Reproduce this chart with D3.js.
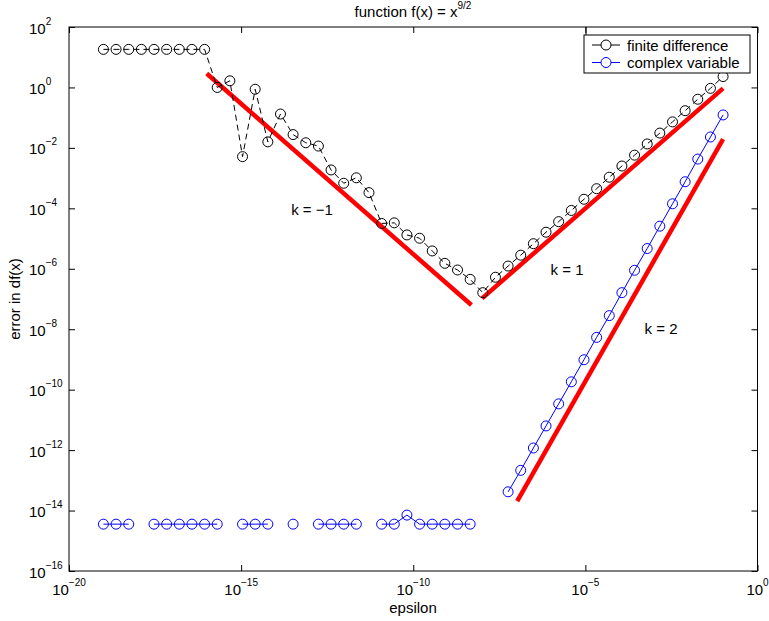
<!DOCTYPE html>
<html>
<head>
  <title>function f(x) = x^(9/2)</title>
  <script src="https://cdn.jsdelivr.net/npm/d3@7/dist/d3.min.js"></script>
  <style>
    body { margin: 0; background: #fff; }
    text { font-family: "Liberation Sans", Arial, Helvetica, sans-serif; fill: #000; }
  </style>
</head>
<body>
<svg width="769" height="621"></svg>

<script>
  // log10(epsilon) of the 50 step sizes
  var logEps = [-19.000, -18.633, -18.265, -17.898, -17.531, -17.163, -16.796, -16.429, -16.061, -15.694,
                -15.327, -14.959, -14.592, -14.224, -13.857, -13.490, -13.122, -12.755, -12.388, -12.020,
                -11.653, -11.286, -10.918, -10.551, -10.184, -9.816, -9.449, -9.082, -8.714, -8.347,
                -7.980, -7.612, -7.245, -6.878, -6.510, -6.143, -5.776, -5.408, -5.041, -4.673,
                -4.306, -3.939, -3.571, -3.204, -2.837, -2.469, -2.102, -1.735, -1.367, -1.000];

  // log10 of error, finite difference
  var logErrFD = [1.26, 1.26, 1.26, 1.26, 1.26, 1.26, 1.26, 1.26, 1.26, 0.00,
                  0.22, -2.29, -0.06, -1.80, -0.88, -1.56, -1.83, -1.94, -2.73, -3.17,
                  -2.99, -3.48, -4.50, -4.48, -4.88, -4.99, -5.41, -5.82, -6.04, -6.35,
                  -6.79, -6.28, -5.91, -5.55, -5.17, -4.79, -4.44, -4.07, -3.70, -3.35,
                  -2.97, -2.60, -2.24, -1.87, -1.51, -1.14, -0.77, -0.39, -0.03, 0.36];

  // log10 of error, complex variable (null = exact zero, not shown on log axis)
  var logErrCV = [-14.45, -14.45, -14.45, null, -14.45, -14.45, -14.45, -14.45, -14.45, -14.45,
                  null, -14.45, -14.45, -14.45, null, -14.45, null, -14.45, -14.45, -14.45,
                  -14.45, null, -14.45, -14.45, -14.15, -14.45, -14.45, -14.45, -14.45, -14.45,
                  null, null, -13.38, -12.67, -11.93, -11.20, -10.47, -9.74, -9.01, -8.27,
                  -7.55, -6.79, -6.05, -5.33, -4.59, -3.85, -3.12, -2.37, -1.64, -0.91];

  // reference slope lines (log10 endpoints)
  var slopeNames = ["k = \u22121", "k = 1", "k = 2"];
  var slopeX = [[-16.0, -8.31], [-8.0, -1.0], [-6.98, -1.0]];
  var slopeY = [[0.46, -7.2], [-6.98, -0.03], [-13.69, -1.71]];
  var slopeLabelPos = [[312, 210], [567, 270], [661, 329]];

  var xTicks = [-20, -15, -10, -5, 0];
  var yTicks = [-16, -14, -12, -10, -8, -6, -4, -2, 0, 2];
  var seriesNames = ["finite difference", "complex variable"];

  var svg = d3.select("svg");
  var axL = 69, axR = 757.5, axT = 27, axB = 571;

  var x = d3.scaleLog().domain([1e-20, 1]).range([axL, axR]);
  var y = d3.scaleLog().domain([1e-16, 1e2]).range([axB, axT]);

  var fd = logEps.map(function(e, i) { return { x: Math.pow(10, e), y: Math.pow(10, logErrFD[i]) }; });
  var cv = logEps.map(function(e, i) {
    return { x: Math.pow(10, e), y: logErrCV[i] === null ? null : Math.pow(10, logErrCV[i]) };
  });

  // axes box
  svg.append("rect")
    .attr("x", axL).attr("y", axT)
    .attr("width", axR - axL).attr("height", axB - axT)
    .style("fill", "none").style("stroke", "#000").style("stroke-width", 1);

  // tick marks, inward on all four sides
  var xTickVals = xTicks.map(function(e) { return Math.pow(10, e); });
  var yTickVals = yTicks.map(function(e) { return Math.pow(10, e); });
  function noLabel() { return ""; }
  svg.append("g").attr("transform", "translate(0," + axB + ")")
    .call(d3.axisBottom(x).tickValues(xTickVals).tickSize(-6).tickFormat(noLabel));
  svg.append("g").attr("transform", "translate(0," + axT + ")")
    .call(d3.axisTop(x).tickValues(xTickVals).tickSize(-6).tickFormat(noLabel));
  svg.append("g").attr("transform", "translate(" + axL + ",0)")
    .call(d3.axisLeft(y).tickValues(yTickVals).tickSize(-6).tickFormat(noLabel));
  svg.append("g").attr("transform", "translate(" + axR + ",0)")
    .call(d3.axisRight(y).tickValues(yTickVals).tickSize(-6).tickFormat(noLabel));
  svg.selectAll(".domain").remove();
  svg.selectAll(".tick line").style("stroke", "#000");

  function expText(n) { return n < 0 ? "\u2212" + (-n) : String(n); }

  // x tick labels
  var xl = svg.append("g").selectAll("text").data(xTicks).enter().append("text")
    .attr("x", function(d) { return x(Math.pow(10, d)); })
    .attr("y", 595)
    .attr("text-anchor", "middle")
    .style("font-size", "15px");
  xl.append("tspan").text("10");
  xl.append("tspan").attr("dy", -9).style("font-size", "10px").text(function(d) { return expText(d); });

  // y tick labels
  var yl = svg.append("g").selectAll("text").data(yTicks).enter().append("text")
    .attr("x", 29)
    .attr("y", function(d) { return y(Math.pow(10, d)) + 6.5; })
    .style("font-size", "15px");
  yl.append("tspan").text("10");
  yl.append("tspan").attr("dy", -9).style("font-size", "10px").text(function(d) { return expText(d); });

  // axis titles
  svg.append("text").attr("x", 413).attr("y", 613).attr("text-anchor", "middle")
    .style("font-size", "15px").text("epsilon");
  svg.append("text").attr("transform", "translate(20,299) rotate(-90)").attr("text-anchor", "middle")
    .style("font-size", "15px").text("error in df(x)");
  var title = svg.append("text").attr("x", 413).attr("y", 17).attr("text-anchor", "middle")
    .style("font-size", "15px");
  title.append("tspan").text("function f(x) = x");
  title.append("tspan").attr("dy", -8).style("font-size", "10px").text("9/2");

  var line = d3.line()
    .defined(function(d) { return d.y !== null; })
    .x(function(d) { return x(d.x); })
    .y(function(d) { return y(d.y); });

  // red slope lines
  svg.append("g").selectAll("line").data(slopeX).enter().append("line")
    .attr("x1", function(d) { return x(Math.pow(10, d[0])); })
    .attr("x2", function(d) { return x(Math.pow(10, d[1])); })
    .attr("y1", function(d, i) { return y(Math.pow(10, slopeY[i][0])); })
    .attr("y2", function(d, i) { return y(Math.pow(10, slopeY[i][1])); })
    .style("stroke", "#ff0000").style("stroke-width", 4.5);

  svg.append("g").selectAll("text").data(slopeNames).enter().append("text")
    .attr("x", function(d, i) { return slopeLabelPos[i][0]; })
    .attr("y", function(d, i) { return slopeLabelPos[i][1] + 5; })
    .attr("text-anchor", "middle")
    .style("font-size", "15px")
    .text(function(d) { return d; });

  // finite difference: dashed black with circles
  svg.append("path").datum(fd).attr("d", line)
    .style("fill", "none").style("stroke", "#000").style("stroke-width", 1)
    .style("stroke-dasharray", "6,4");
  svg.append("g").selectAll("circle").data(fd).enter().append("circle")
    .attr("cx", function(d) { return x(d.x); })
    .attr("cy", function(d) { return y(d.y); })
    .attr("r", 5)
    .style("fill", "none").style("stroke", "#000").style("stroke-width", 1);

  // complex variable: solid blue with circles
  svg.append("path").datum(cv).attr("d", line)
    .style("fill", "none").style("stroke", "#0000ff").style("stroke-width", 1);
  svg.append("g").selectAll("circle").data(cv.filter(function(d) { return d.y !== null; })).enter().append("circle")
    .attr("cx", function(d) { return x(d.x); })
    .attr("cy", function(d) { return y(d.y); })
    .attr("r", 5)
    .style("fill", "none").style("stroke", "#0000ff").style("stroke-width", 1);

  // legend
  svg.append("line").attr("x1", 586).attr("x2", 586).attr("y1", axT).attr("y2", 35)
    .style("stroke", "#000").style("stroke-width", 1);
  svg.append("rect").attr("x", 584).attr("y", 35).attr("width", 166).attr("height", 38)
    .style("fill", "#fff").style("stroke", "#000").style("stroke-width", 1);
  var legColors = ["#000", "#0000ff"];
  var leg = svg.append("g").selectAll("g").data(seriesNames).enter().append("g")
    .attr("transform", function(d, i) { return "translate(0," + (45 + i * 17.5) + ")"; });
  leg.append("line").attr("x1", 592).attr("x2", 620).attr("y1", 0).attr("y2", 0)
    .style("stroke", function(d, i) { return legColors[i]; }).style("stroke-width", 1);
  leg.append("circle").attr("cx", 606).attr("cy", 0).attr("r", 5)
    .style("fill", "#fff").style("stroke", function(d, i) { return legColors[i]; });
  leg.append("text").attr("x", 627).attr("y", 5.5)
    .style("font-size", "15px")
    .text(function(d) { return d; });
</script>
</body>
</html>
